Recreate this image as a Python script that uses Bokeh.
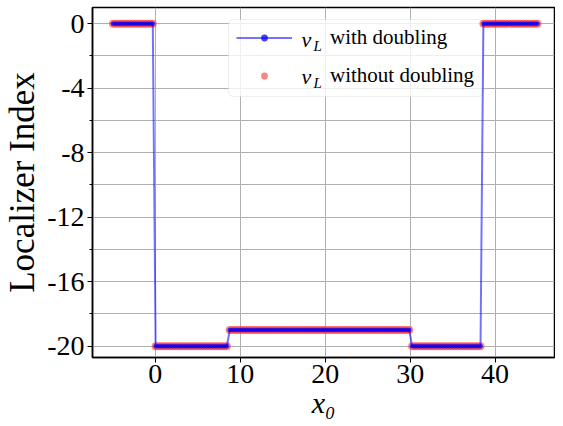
import numpy as np
from bokeh.plotting import figure
from bokeh.models import (ColumnDataSource, FixedTicker, Legend, LegendItem,
                          Label, Range1d, BoxAnnotation)
from bokeh.embed import file_html
from bokeh.resources import INLINE

# ---------------- data ----------------
x_start, x_stop, n_points = -5.0, 45.0, 150
plateau_levels = [0, -20, -19, -20, 0]
plateau_counts = [15, 26, 64, 25, 20]

x_ticks = [0, 10, 20, 30, 40]
y_ticks = [0, -4, -8, -12, -16, -20]
y_tick_labels = ["0", "-4", "-8", "-12", "-16", "-20"]
y_minor_ticks = [-2, -6, -10, -14, -18]

x_label = "x\u2080"
y_label = "Localizer Index"
legend_labels = ["with doubling", "without doubling"]

x_vals = np.linspace(x_start, x_stop, n_points)
nu_with = np.repeat(plateau_levels, plateau_counts).astype(float)
nu_without = np.repeat(plateau_levels, plateau_counts).astype(float)

src = ColumnDataSource(dict(x=x_vals, y1=nu_with, y2=nu_without))

# ---------------- figure ----------------
X0, X1 = -7.4, 47.0
Y0, Y1 = -20.7, 1.0
FW, FH = 462, 350

p = figure(frame_width=FW, frame_height=FH, output_backend="svg",
           toolbar_location=None, x_range=Range1d(X0, X1),
           y_range=Range1d(Y0, Y1),
           min_border_left=80, min_border_right=1,
           min_border_top=7, min_border_bottom=58)
p.background_fill_color = "white"
p.border_fill_color = "white"
p.outline_line_color = "black"
p.outline_line_width = 1.5

SERIF = "Liberation Serif"

for ax in (p.xaxis[0], p.yaxis[0]):
    ax.axis_line_color = "black"
    ax.axis_line_width = 1.5
    ax.major_tick_line_color = "black"
    ax.minor_tick_line_color = "black"
    ax.major_tick_in = 0
    ax.minor_tick_in = 0
    ax.major_tick_out = 5
    ax.minor_tick_out = 3
    ax.major_label_text_font = SERIF
    ax.major_label_text_font_size = "28px"
    ax.major_label_text_color = "black"
    ax.axis_label_text_font = SERIF
    ax.axis_label_text_color = "black"
    ax.axis_label_text_font_style = "normal"

p.xaxis[0].ticker = FixedTicker(ticks=x_ticks, minor_ticks=[])
p.yaxis[0].ticker = FixedTicker(ticks=y_ticks, minor_ticks=y_minor_ticks)
p.yaxis[0].major_label_overrides = {t: s for t, s in zip(y_ticks, y_tick_labels)}
p.xaxis[0].major_label_standoff = 2
p.yaxis[0].major_label_standoff = 3
p.xaxis[0].axis_label = x_label
p.xaxis[0].axis_label_text_font_style = "italic"
p.xaxis[0].axis_label_text_font_size = "30px"
p.xaxis[0].axis_label_standoff = 0
p.yaxis[0].axis_label = y_label
p.yaxis[0].axis_label_text_font_size = "35px"
p.yaxis[0].axis_label_standoff = 2

GRID = "#b0b0b0"
p.xgrid.grid_line_color = GRID
p.xgrid.grid_line_width = 1
p.ygrid.grid_line_color = GRID
p.ygrid.grid_line_width = 1
p.ygrid.minor_grid_line_color = GRID
p.ygrid.minor_grid_line_width = 1


def dx(px):
    return X0 + px * (X1 - X0) / FW


def dy(py_from_top):
    return Y1 - py_from_top * (Y1 - Y0) / FH


# ---------------- legend geometry ----------------
LEG_X, LEG_TOP, LEG_W = 136, 12, 255
PAD, GH, GW, SP, STANDOFF = 8, 17, 56, 13, 38
TXT_H = 24
LEG_H = 2 * PAD + 2 * TXT_H + SP

# legend frame (drawn under the glyphs, over the grid)
box = BoxAnnotation(left=dx(LEG_X), right=dx(LEG_X + LEG_W),
                    top=dy(LEG_TOP), bottom=dy(LEG_TOP + LEG_H),
                    fill_color="white", fill_alpha=0.8,
                    line_color="#cccccc", line_width=1.2, level="underlay")
if "border_radius" in BoxAnnotation.properties():
    box.border_radius = 5
p.add_layout(box)

# ---------------- glyphs ----------------
r_red = p.scatter("x", "y2", source=src, size=8, fill_color="#ff3030",
                  line_color=None, fill_alpha=0.6)
r_line = p.line("x", "y1", source=src, line_color="blue", line_alpha=0.55,
                line_width=2)
r_bm = p.scatter("x", "y1", source=src, size=4.5, fill_color="blue",
                 line_color=None, fill_alpha=0.75)

legend = Legend(items=[LegendItem(label=legend_labels[0], renderers=[r_line, r_bm]),
                       LegendItem(label=legend_labels[1], renderers=[r_red])],
                location=(LEG_X, FH - LEG_TOP - LEG_H),
                padding=PAD, spacing=SP, glyph_height=GH, glyph_width=GW,
                label_height=GH, label_standoff=STANDOFF, margin=0,
                label_text_font=SERIF, label_text_font_size="21px",
                label_text_color="black",
                border_line_color="white", border_line_alpha=0,
                background_fill_color="white", background_fill_alpha=0)
p.add_layout(legend)

nu_left = LEG_X + PAD + GW + 9
for i in range(2):
    row_c = LEG_TOP + PAD + TXT_H / 2 + i * (TXT_H + SP)
    p.add_layout(Label(x=dx(nu_left), y=dy(row_c), text="\u03bd",
                       text_font=SERIF, text_font_style="italic",
                       text_font_size="22px", text_baseline="middle",
                       text_align="left", text_color="black"))
    p.add_layout(Label(x=dx(nu_left + 12), y=dy(row_c + 6), text="L",
                       text_font=SERIF, text_font_style="italic",
                       text_font_size="15px", text_baseline="middle",
                       text_align="left", text_color="black"))

open("out.html", "w").write(file_html(p, INLINE))
